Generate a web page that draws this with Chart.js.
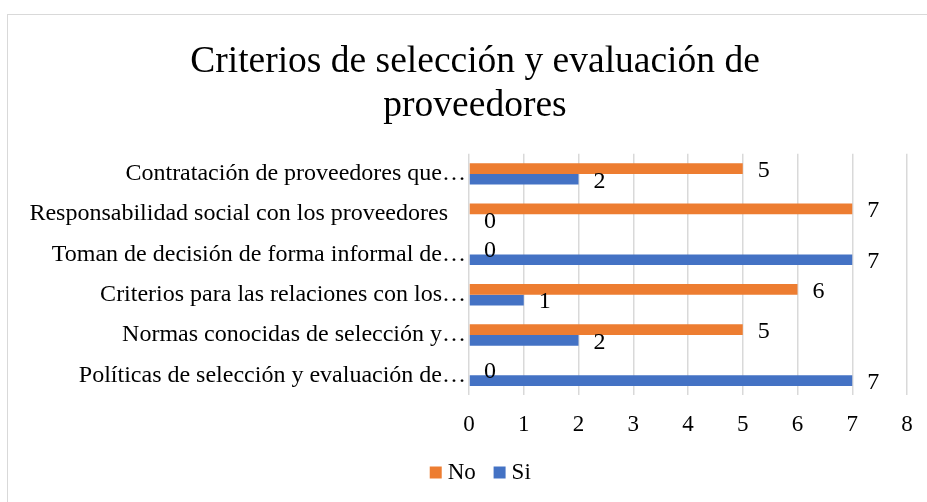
<!DOCTYPE html>
<html>
<head>
<meta charset="utf-8">
<script src="https://cdn.jsdelivr.net/npm/chart.js@4/dist/chart.umd.min.js"></script>
<style>
  html, body { margin: 0; padding: 0; background: #fff; overflow: hidden; }
  #wrap { position: absolute; left: 7px; top: 14px; width: 934px; height: 500px; border: 1px solid #d9d9d9; background: #fff; }
  canvas { display: block; }
</style>
</head>
<body>
<div id="wrap"><canvas id="c" width="934" height="500"></canvas></div>
<script>
const categories = [
  "Contratación de proveedores que…",
  "Responsabilidad social con los proveedores   ",
  "Toman de decisión de forma informal de…",
  "Criterios para las relaciones con los…",
  "Normas conocidas de selección y…",
  "Políticas de selección y evaluación de…"
];
const seriesNames = ["No", "Si"];
const noValues = [5, 7, 0, 6, 5, 0];
const siValues = [2, 0, 7, 1, 2, 7];
const xTicks = [0, 1, 2, 3, 4, 5, 6, 7, 8];
const titleLines = ["Criterios de selección y evaluación de", "proveedores"];

const FONT = "'Liberation Serif', 'Times New Roman', serif";
const TXT = "#000000";

const labelPlugin = {
  id: 'barLabels',
  afterDatasetsDraw(chart) {
    const ctx = chart.ctx;
    ctx.save();
    ctx.font = "24px " + FONT;
    ctx.fillStyle = TXT;
    ctx.textAlign = 'center';
    ctx.textBaseline = 'middle';
    chart.data.datasets.forEach((ds, di) => {
      const meta = chart.getDatasetMeta(di);
      meta.data.forEach((bar, i) => {
        ctx.fillText(String(ds.data[i]), bar.x + 21, bar.y + 2);
      });
    });
    ctx.restore();
  }
};

// centre the title and legend across the whole canvas, not only the padded layout area
const blockCenter = {
  id: 'blockCenter',
  afterLayout(chart) {
    if (chart.titleBlock) {
      chart.titleBlock.left = 0;
      chart.titleBlock.right = chart.width;
    }
    if (chart.legend) {
      chart.legend.left = 16;
      chart.legend.right = chart.width;
    }
  }
};

new Chart(document.getElementById('c'), {
  type: 'bar',
  data: {
    labels: categories,
    datasets: [
      { label: seriesNames[0], data: noValues, backgroundColor: '#ED7D31', borderWidth: 0 },
      { label: seriesNames[1], data: siValues, backgroundColor: '#4472C4', borderWidth: 0 }
    ]
  },
  options: {
    indexAxis: 'y',
    responsive: false,
    animation: false,
    layout: { padding: { left: 0, right: 35, top: 0, bottom: 21 } },
    datasets: { bar: { categoryPercentage: 0.53, barPercentage: 1.0 } },
    plugins: {
      title: {
        display: true,
        text: titleLines,
        color: TXT,
        font: { family: FONT, size: 37.5, weight: 'normal', lineHeight: 1.17 },
        padding: { top: 25, bottom: 26 }
      },
      legend: {
        position: 'bottom',
        labels: {
          color: TXT,
          font: { family: FONT, size: 23 },
          usePointStyle: true,
          pointStyle: 'rect',
          boxWidth: 1, boxHeight: 12, padding: 6,
          generateLabels(chart) {
            const items = Chart.defaults.plugins.legend.labels.generateLabels(chart);
            items.forEach((it, i) => {
              it.pointStyle = 'rect';
              it.lineWidth = 0;
              if (i < items.length - 1) it.text += '   ';
            });
            return items;
          }
        }
      },
      tooltip: { enabled: false }
    },
    scales: {
      x: {
        min: 0, max: 8,
        afterBuildTicks(scale) { scale.ticks = xTicks.map(v => ({ value: v })); },
        grid: { color: '#d9d9d9', lineWidth: 1.5, drawTicks: false },
        border: { display: false },
        ticks: { color: TXT, font: { family: FONT, size: 23 }, padding: 16 }
      },
      y: {
        afterFit(scale) { scale.width = 461; },
        grid: { display: false, drawTicks: false },
        border: { display: false },
        ticks: { color: TXT, font: { family: FONT, size: 24 }, padding: 3, autoSkip: false }
      }
    }
  },
  plugins: [labelPlugin, blockCenter]
});
</script>
</body>
</html>
